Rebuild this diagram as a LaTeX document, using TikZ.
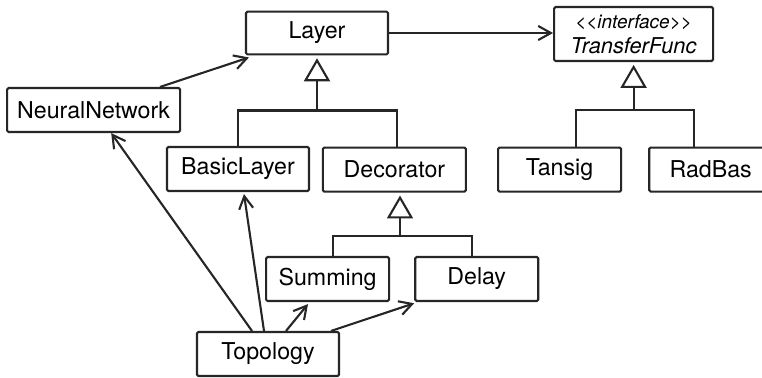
\documentclass[tikz,border=0pt]{standalone}
\usepackage{fontspec}
\setmainfont{TeX Gyre Heros}
\usepackage{tikz}
\usetikzlibrary{positioning}
\usetikzlibrary{arrows.meta}
\tikzset{>=latex}
\usepackage{xcolor}
\colorlet{umlgray}{black!85}
\tikzstyle{umlnode}=[align=center, rounded corners=1pt, minimum height=1.1cm, inner sep=0pt]
\tikzstyle{umlclass}=[umlnode, rectangle, draw=umlgray, line width=1.5pt, fill=white]
\tikzstyle{connect}=[line width=1.5pt,umlgray]
\tikzstyle{connect arrow}=[-{Straight Barb[length=9pt,width=10pt]},line width=1.5pt,umlgray]
\tikzstyle{inherit arrow}=[-{Triangle[open,length=0.575cm,width=0.65cm]},line width=1.5pt,umlgray,shorten >=2pt]

\begin{document}
\begin{tikzpicture}[
    font=\fontsize{16.5}{19}\selectfont]

\useasboundingbox (0,0) rectangle (19.05,-9.425);
\clip (0,0) rectangle (19.05,-9.425);

\node[umlclass, minimum width=3.55cm, minimum height=1.07cm] (Layer) at (7.925,-0.825) {Layer};
\node[umlclass, minimum width=3.975cm, minimum height=1.35cm] (TransferFunc) at (15.84,-0.85)
    {{\fontsize{13.5}{14}\selectfont\itshape <{}<interface>{}>}\\[-1pt]{\fontsize{15.5}{17}\selectfont\itshape TransferFunc}};

\node[umlclass, minimum width=4.325cm] (NeuralNetwork) at (2.34,-2.75) {NeuralNetwork};

\node[umlclass, minimum width=3.55cm] (BasicLayer) at (5.95,-4.225) {BasicLayer};
\node[umlclass, minimum width=3.575cm] (Decorator) at (9.86,-4.24) {Decorator};
\node[umlclass, minimum width=3.075cm] (Tansig) at (13.99,-4.24) {Tansig};
\node[umlclass, minimum width=3.075cm] (RadBas) [right=0.65cm of Tansig] {RadBas};

\node[umlclass, minimum width=3.075cm] (Summing) at (8.19,-6.975) {Summing};
\node[umlclass, minimum width=3.075cm] (Delay) [right=0.6cm of Summing] {Delay};

\node[umlclass, minimum width=3.55cm] (Topology) at (6.7,-8.85) {Topology};

% forks of the generalisation trees
\coordinate (layer fork) at ([yshift=-1.375cm]Layer.south);
\coordinate (tf fork) at ([yshift=-1.2cm]TransferFunc.south);
\coordinate (deco fork) at ([xshift=0.14cm,yshift=-1.075cm]Decorator.south);

\begin{scope}[connect]
    \draw (BasicLayer.north) |- (layer fork) -| ([xshift=0.06cm]Decorator.north);
    \draw ([xshift=0.41cm]Tansig.north) |- (tf fork) -| ([xshift=-0.41cm]RadBas.north);
    \draw ([xshift=0.14cm]Summing.north) |- (deco fork) -| ([xshift=-0.11cm]Delay.north);
\end{scope}

\begin{scope}[inherit arrow]
    \draw (layer fork) -- (Layer.south);
    \draw (tf fork) -- (TransferFunc.south);
    \draw (deco fork) -- (deco fork |- Decorator.south);
\end{scope}

\begin{scope}[connect arrow]
    \draw (Layer.east) -- (Layer.east -| TransferFunc.west);
    \draw ([xshift=1.66cm]NeuralNetwork.north) -- ([xshift=0.1cm,yshift=-0.05cm]Layer.south west);

    \draw ([xshift=-0.4cm]Topology.north) -- ([xshift=0.44cm]NeuralNetwork.south);
    \draw ([xshift=-0.1cm]Topology.north) -- ([xshift=0.15cm,yshift=-0.05cm]BasicLayer.south);
    \draw ([xshift=0.45cm]Topology.north) -- ([xshift=-0.49cm,yshift=-0.05cm]Summing.south);
    \draw ([xshift=1.575cm]Topology.north) -- ([yshift=-0.03cm]Delay.south west);
\end{scope}

\end{tikzpicture}
\end{document}
